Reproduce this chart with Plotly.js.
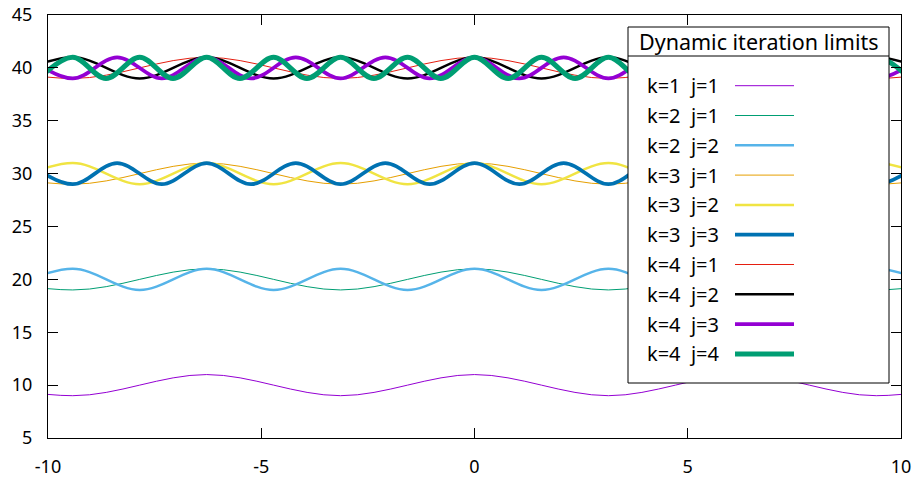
<!DOCTYPE html>
<html>
<head>
<meta charset="utf-8">
<script src="https://cdn.plot.ly/plotly-3.0.1.min.js"></script>
<style>html,body{margin:0;padding:0;background:#fff;}#chart{width:917px;height:479px;}</style>
</head>
<body>
<div id="chart"></div>
<script>
// Peak / trough positions of the curves (x), per frequency j
const xJ1 = [-12.57, -9.42, -6.28, -3.14, 0, 3.14, 6.28, 9.42, 12.57];
const xJ2 = [-11.00, -9.42, -7.85, -6.28, -4.71, -3.14, -1.57, 0, 1.57, 3.14, 4.71, 6.28, 7.85, 9.42, 11.00];
const xJ3 = [-10.47, -9.42, -8.38, -7.33, -6.28, -5.24, -4.19, -3.14, -2.09, -1.05, 0, 1.05, 2.09, 3.14, 4.19, 5.24, 6.28, 7.33, 8.38, 9.42, 10.47];
const xJ4 = [-10.21, -9.42, -8.64, -7.85, -7.07, -6.28, -5.50, -4.71, -3.93, -3.14, -2.36, -1.57, -0.79, 0, 0.79, 1.57, 2.36, 3.14, 3.93, 4.71, 5.50, 6.28, 7.07, 7.85, 8.64, 9.42, 10.21];

// Values at those positions
const yK1J1 = [11, 9, 11, 9, 11, 9, 11, 9, 11];
const yK2J1 = [21, 19, 21, 19, 21, 19, 21, 19, 21];
const yK2J2 = [19, 21, 19, 21, 19, 21, 19, 21, 19, 21, 19, 21, 19, 21, 19];
const yK3J1 = [31, 29, 31, 29, 31, 29, 31, 29, 31];
const yK3J2 = [29, 31, 29, 31, 29, 31, 29, 31, 29, 31, 29, 31, 29, 31, 29];
const yK3J3 = [31, 29, 31, 29, 31, 29, 31, 29, 31, 29, 31, 29, 31, 29, 31, 29, 31, 29, 31, 29, 31];
const yK4J1 = [41, 39, 41, 39, 41, 39, 41, 39, 41];
const yK4J2 = [39, 41, 39, 41, 39, 41, 39, 41, 39, 41, 39, 41, 39, 41, 39];
const yK4J3 = [41, 39, 41, 39, 41, 39, 41, 39, 41, 39, 41, 39, 41, 39, 41, 39, 41, 39, 41, 39, 41];
const yK4J4 = [39, 41, 39, 41, 39, 41, 39, 41, 39, 41, 39, 41, 39, 41, 39, 41, 39, 41, 39, 41, 39, 41, 39, 41, 39, 41, 39];

const seriesNames = ["k=1\u00a0\u00a0j=1", "k=2\u00a0\u00a0j=1", "k=2\u00a0\u00a0j=2", "k=3\u00a0\u00a0j=1", "k=3\u00a0\u00a0j=2",
                     "k=3\u00a0\u00a0j=3", "k=4\u00a0\u00a0j=1", "k=4\u00a0\u00a0j=2", "k=4\u00a0\u00a0j=3", "k=4\u00a0\u00a0j=4"];
const legendTitle = "Dynamic iteration limits";
const xTicks = [-10, -5, 0, 5, 10];
const yTicks = [5, 10, 15, 20, 25, 30, 35, 40, 45];

const seriesX = [xJ1, xJ1, xJ2, xJ1, xJ2, xJ3, xJ1, xJ2, xJ3, xJ4];
const seriesY = [yK1J1, yK2J1, yK2J2, yK3J1, yK3J2, yK3J3, yK4J1, yK4J2, yK4J3, yK4J4];
const colors = ["#9400d3", "#009e73", "#56b4e9", "#e69f00", "#f0e442", "#0072b2", "#e51e10", "#000000", "#9400d3", "#009e73"];
const widths = [1, 1, 2.5, 1, 2.5, 3.7, 1, 2.5, 3.7, 5];

const traces = seriesY.map((y, i) => ({
  x: seriesX[i], y: y, type: "scatter", mode: "lines", name: seriesNames[i],
  line: {color: colors[i], width: widths[i], shape: "spline", smoothing: 1},
  hoverinfo: "skip"
}));

const W = 917, H = 479, L = 48, R = 16, T = 15, B = 41;
const pw = W - L - R, ph = H - T - B;
const px = v => (v - L) / pw;
const py = v => (H - B - v) / ph;

const shapes = [];
const annotations = [];
const font = "Noto Sans, Open Sans, DejaVu Sans, sans-serif";
shapes.push({type: "rect", xref: "paper", yref: "paper", x0: px(628), x1: px(889), y0: py(383), y1: py(27),
  fillcolor: "#ffffff", line: {color: "#000", width: 1}, layer: "above"});
shapes.push({type: "line", xref: "paper", yref: "paper", x0: px(628), x1: px(889), y0: py(56), y1: py(56),
  line: {color: "#000", width: 1}, layer: "above"});
annotations.push({xref: "paper", yref: "paper", x: px(759), y: py(42), text: legendTitle, showarrow: false,
  xanchor: "center", yanchor: "middle", font: {family: font, size: 21.5, color: "#000"}});
seriesNames.forEach((n, i) => {
  const yc = 85.7 + i * 29.8;
  annotations.push({xref: "paper", yref: "paper", x: px(645), y: py(yc), text: n, showarrow: false,
    xanchor: "left", yanchor: "middle", font: {family: font, size: 20, color: "#000"}});
  shapes.push({type: "line", xref: "paper", yref: "paper", x0: px(735), x1: px(794), y0: py(yc), y1: py(yc),
    line: {color: colors[i], width: widths[i]}, layer: "above"});
});

const layout = {
  width: W, height: H,
  margin: {l: L, r: R, t: T, b: B, pad: 0},
  paper_bgcolor: "#fff", plot_bgcolor: "#fff",
  showlegend: false,
  font: {family: font, size: 18, color: "#000"},
  xaxis: {range: [-10, 10], tickvals: xTicks, ticktext: xTicks.map(String), ticks: "inside", ticklen: 10,
    tickcolor: "#000", showline: true, linecolor: "#000", linewidth: 1, mirror: "ticks",
    showgrid: false, zeroline: false, ticklabelstandoff: 12, tickfont: {size: 18}},
  yaxis: {range: [5, 45], tickvals: yTicks, ticktext: yTicks.map(String), ticks: "inside", ticklen: 10,
    tickcolor: "#000", showline: true, linecolor: "#000", linewidth: 1, mirror: "ticks",
    showgrid: false, zeroline: false, ticklabelstandoff: 11, tickfont: {size: 18}},
  shapes: shapes, annotations: annotations
};

Plotly.newPlot("chart", traces, layout, {staticPlot: true, displayModeBar: false});
</script>
</body>
</html>
